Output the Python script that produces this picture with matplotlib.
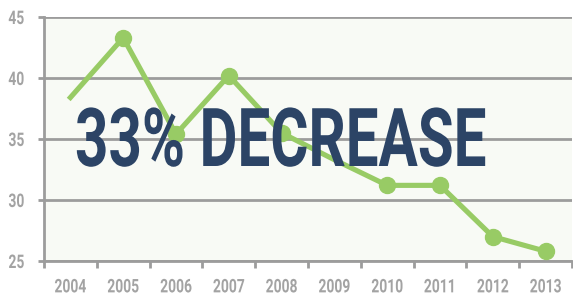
import matplotlib
matplotlib.use('Agg')
import matplotlib.pyplot as plt
from matplotlib.patheffects import AbstractPathEffect
from matplotlib.transforms import Affine2D

years = ['2004', '2005', '2006', '2007', '2008', '2009', '2010', '2011', '2012', '2013']
values = [38.4, 43.3, 35.4, 40.2, 35.5, 33.3, 31.2, 31.2, 27.0, 25.8]
yticks = [25, 30, 35, 40, 45]
headline = '33% DECREASE'

green = '#98CB65'
navy = '#2C4466'
grey = '#9C9C9C'
label_grey = '#A3A3A3'
font = ['Roboto', 'DejaVu Sans']


class Squeeze(AbstractPathEffect):
    # rescale the glyphs to fake a condensed face; pivot keeps the alignment edge fixed
    def __init__(self, sx, pivot='left', sy=1.0):
        super().__init__()
        self.sx = sx
        self.sy = sy
        self.pivot = pivot

    def draw_path(self, renderer, gc, tpath, affine, rgbFace=None):
        ext = tpath.get_extents()
        px = {'left': ext.x0, 'center': (ext.x0 + ext.x1) / 2, 'right': ext.x1}[self.pivot]
        local = Affine2D().translate(-px, 0).scale(self.sx, self.sy).translate(px, 0)
        renderer.draw_path(gc, tpath, local + affine, rgbFace)


W, H = 573, 299
fig = plt.figure(figsize=(W / 100, H / 100), dpi=100)
ax = fig.add_axes([44 / W, 38 / H, 528 / W, 244 / H])
ax.set_facecolor('#F8FAF5')

x = list(range(len(years)))
# no dot on the first year; the 2009 dot sits hidden behind the headline
dots = [i for i in x if i not in (0, 5)]
ax.plot(x, values, color=green, lw=3.7, marker='o', ms=11.5, markevery=dots,
        clip_on=False, zorder=3)

ax.set_xlim(-0.5, len(years) - 0.5)
ax.set_ylim(25, 45)
ax.set_yticks(yticks)
ax.set_yticklabels([str(v) for v in yticks])
ax.yaxis.grid(True, color=grey, lw=2)
ax.set_axisbelow(True)

# band boundaries get tick marks, band centres get the year labels
ax.set_xticks([i - 0.5 for i in range(len(years) + 1)])
ax.set_xticklabels([])
ax.set_xticks(x, minor=True)
ax.set_xticklabels(years, minor=True)
ax.tick_params(axis='x', which='major', length=5, width=2, color=grey, direction='out')
ax.tick_params(axis='x', which='minor', length=0, pad=12.5, labelsize=13.5, labelcolor=label_grey)
ax.tick_params(axis='y', length=4, width=2, color=grey, pad=10, labelsize=13.5, labelcolor=label_grey)
for lab in ax.get_xticklabels(minor=True):
    lab.set_family(font)
    lab.set_weight('bold')
    lab.set_path_effects([Squeeze(0.74, 'center')])
for lab in ax.get_yticklabels():
    lab.set_family(font)
    lab.set_weight('bold')
    lab.set_path_effects([Squeeze(0.74, 'right')])

for side in ['top', 'right']:
    ax.spines[side].set_visible(False)
for side in ['left', 'bottom']:
    ax.spines[side].set_color(grey)
    ax.spines[side].set_linewidth(2)

fig.text(75 / W, (H - 166) / H, headline, color=navy, fontsize=42, fontweight='bold',
         family=font, ha='left', va='baseline', zorder=5,
         path_effects=[Squeeze(1.0, 'left', sy=58.5 / 42)])

fig.savefig('out.png', dpi=100)
